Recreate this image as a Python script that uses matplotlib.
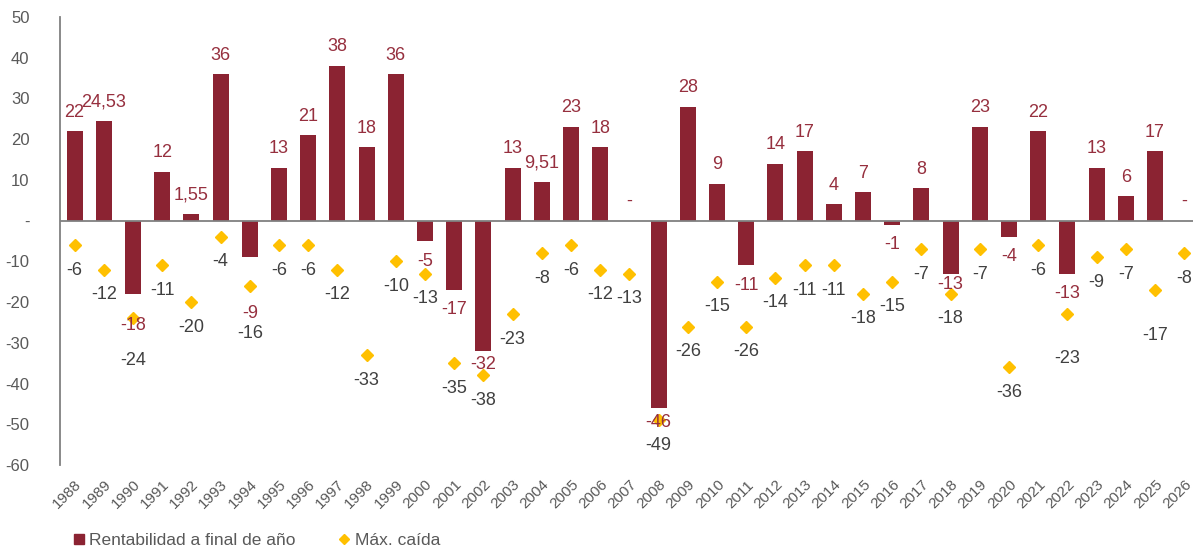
import matplotlib
matplotlib.use('Agg')
import matplotlib.pyplot as plt
from matplotlib.lines import Line2D
import numpy as np

plt.rcParams['font.family'] = ['Liberation Sans', 'DejaVu Sans']

# Data
years = [str(y) for y in range(1988, 2027)]
rentabilidad = [22, 24.53, -18, 12, 1.55, 36, -9, 13, 21, 38, 18, 36, -5, -17, -32,
                13, 9.51, 23, 18, 0, -46, 28, 9, -11, 14, 17, 4, 7, -1, 8, -13, 23,
                -4, 22, -13, 13, 6, 17, 0]
max_caida = [-6, -12, -24, -11, -20, -4, -16, -6, -6, -12, -33, -10, -13, -35, -38,
             -23, -8, -6, -12, -13, -49, -26, -15, -26, -14, -11, -11, -18, -15, -7,
             -18, -7, -36, -6, -23, -9, -7, -17, -8]

bar_color = '#8B2332'
label_red = '#962F3E'
gold = '#FFC000'
gray_txt = '#404040'
axis_gray = '#595959'

# manual label nudges (pixels below the point), like Excel's dragged labels
bar_lbl_off = {'1990': 32, '1994': 56, '2002': 14, '2008': 15, '2018': 11}
caida_lbl_off = {'1990': 42, '1994': 48, '2022': 44, '2025': 46}


def fmt(v):
    if v == 0:
        return '-'
    if float(v).is_integer():
        return str(int(v))
    return ('%g' % v).replace('.', ',')


fig = plt.figure(figsize=(11.93, 5.49), dpi=100)
ax = fig.add_axes([60 / 1193, 1 - 465 / 549, 1 - 60 / 1193, 448 / 549])

x = np.arange(len(years))
ax.bar(x, rentabilidad, width=0.55, color=bar_color, zorder=2)
ax.plot(x, max_caida, linestyle='none', marker='D', markersize=6,
        color=gold, zorder=3)

ax.axhline(0, color='#808080', linewidth=1.3, zorder=2.5)

# bar labels
for i, v in enumerate(rentabilidad):
    if v >= 0:
        off = 19
    else:
        off = -bar_lbl_off.get(years[i], 20)
    ax.annotate(fmt(v), (x[i], v), xytext=(0, off), textcoords='offset pixels',
                ha='center', va='center', fontsize=13, color=label_red, zorder=4)

# max drawdown labels
for i, v in enumerate(max_caida):
    off = caida_lbl_off.get(years[i], 25)
    ax.annotate(fmt(v), (x[i], v), xytext=(0, -off), textcoords='offset pixels',
                ha='center', va='center', fontsize=13, color=gray_txt, zorder=4)

ax.set_xlim(-0.5, 38.3)
ax.set_ylim(-60, 50)
ax.set_yticks(range(-60, 51, 10))
ax.set_yticklabels([fmt(t) for t in range(-60, 51, 10)])
ax.set_xticks(x)
ax.set_xticklabels(years, rotation=45, ha='right', va='top', rotation_mode='anchor')

ax.tick_params(axis='y', length=0, pad=22, labelsize=12, labelcolor=axis_gray)
ax.tick_params(axis='x', length=0, pad=9, labelsize=11, labelcolor=axis_gray)

for s in ['top', 'right', 'bottom']:
    ax.spines[s].set_visible(False)
ax.spines['left'].set_color('#808080')
ax.spines['left'].set_linewidth(1.3)

handles = [Line2D([], [], linestyle='none', marker='s', markersize=7, color=bar_color),
           Line2D([], [], linestyle='none', marker='D', markersize=5, color=gold)]
fig.legend(handles, ['Rentabilidad a final de año', 'Máx. caída'],
           loc='center left', bbox_to_anchor=(72 / 1193, 1 - 540 / 549),
           ncol=2, frameon=False, fontsize=12.5, handlelength=0.8,
           handletextpad=0.2, columnspacing=2.4, labelcolor=axis_gray,
           borderaxespad=0, borderpad=0)

plt.savefig('out.png', dpi=100)
